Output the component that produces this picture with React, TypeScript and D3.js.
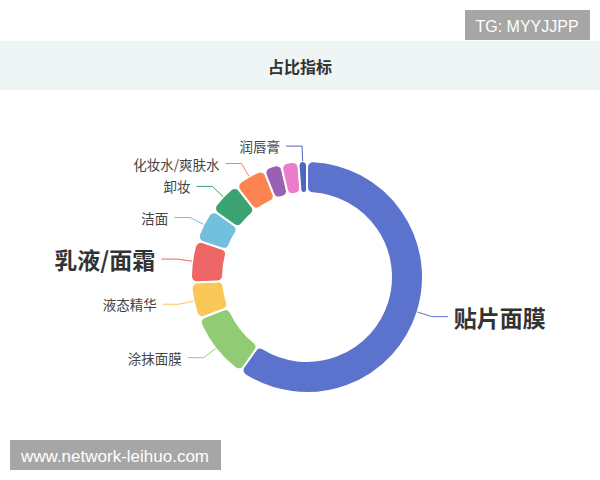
import React from "react";
import * as d3 from "d3";

const categories = ["贴片面膜", "涂抹面膜", "液态精华", "乳液/面霜", "洁面", "卸妆", "化妆水/爽肤水", "眼霜", "精华油", "润唇膏"];
const values = [596, 93, 51, 59, 47, 46, 44, 25, 24, 12];
const showLabel = [true, true, true, true, true, true, true, false, false, true];
const bigLabel = ["贴片面膜", "乳液/面霜"];
const palette = ["#5b73cc", "#91cc75", "#fac858", "#ee6666", "#73c0de", "#3ba272", "#fc8452", "#9a60b4", "#ea7ccc", "#4f67bf"];
const title = "占比指标";
const watermarkTop = "TG: MYYJJPP";
const watermarkBottom = "www.network-leihuo.com";

const W = 600;
const H = 480;
const cx = 307;
const cy = 277;
const outerR = 116;
const innerR = 84;
const len1 = 15;
const len2 = 16;
const gap = 6;

export default function App() {
  const data = categories.map((name, i) => ({ name, value: values[i], i }));
  const pie = d3.pie<any>().value((d: any) => d.value).sort(null).startAngle(0).endAngle(Math.PI * 2);
  const arcs = pie(data);
  const arc = d3.arc<any>().innerRadius(innerR).outerRadius(outerR).cornerRadius(6);
  const font = "'Noto Sans CJK SC', 'Noto Sans', sans-serif";

  return (
    <svg width={W} height={H} style={{ position: "fixed", left: 0, top: 0, background: "#fff" }}>
      <rect x={0} y={41} width={W} height={49} fill="#eff4f4" />
      <text x={300} y={66} textAnchor="middle" dominantBaseline="central" fontFamily={font} fontSize={16} fontWeight="bold" fill="#333">
        {title}
      </text>
      <rect x={465} y={10} width={125} height={30} fill="#a6a6a6" />
      <text x={527} y={26} textAnchor="middle" dominantBaseline="central" fontFamily="'Liberation Sans', Arial, sans-serif" fontSize={16} fill="#fff">
        {watermarkTop}
      </text>
      <rect x={10} y={440} width={211} height={30} fill="#a6a6a6" />
      <text x={115} y={456} textAnchor="middle" dominantBaseline="central" fontFamily="'Liberation Sans', Arial, sans-serif" fontSize={17} fill="#fff">
        {watermarkBottom}
      </text>
      <g transform={`translate(${cx},${cy})`}>
        {arcs.map((a: any) => (
          <path key={a.data.name} d={arc(a) || ""} fill={palette[a.data.i]} stroke="#fff" strokeWidth={2} />
        ))}
      </g>
      {arcs.map((a: any) => {
        if (!showLabel[a.data.i]) return null;
        const mid = (a.startAngle + a.endAngle) / 2;
        const sx = cx + outerR * Math.sin(mid);
        const sy = cy - outerR * Math.cos(mid);
        const ex = cx + (outerR + len1) * Math.sin(mid);
        const ey = cy - (outerR + len1) * Math.cos(mid);
        const right = Math.sin(mid) >= 0;
        const lx = ex + (right ? len2 : -len2);
        const big = bigLabel.includes(a.data.name);
        return (
          <g key={"l" + a.data.name}>
            <polyline points={`${sx},${sy} ${ex},${ey} ${lx},${ey}`} fill="none" stroke={palette[a.data.i]} strokeWidth={1} />
            <text
              x={lx + (right ? gap : -gap)}
              y={ey}
              textAnchor={right ? "start" : "end"}
              dominantBaseline="central"
              fontFamily={font}
              fontSize={big ? 23 : 13.5}
              fontWeight={big ? "bold" : "normal"}
              fill={big ? "#333" : "#444"}
            >
              {a.data.name}
            </text>
          </g>
        );
      })}
    </svg>
  );
}
